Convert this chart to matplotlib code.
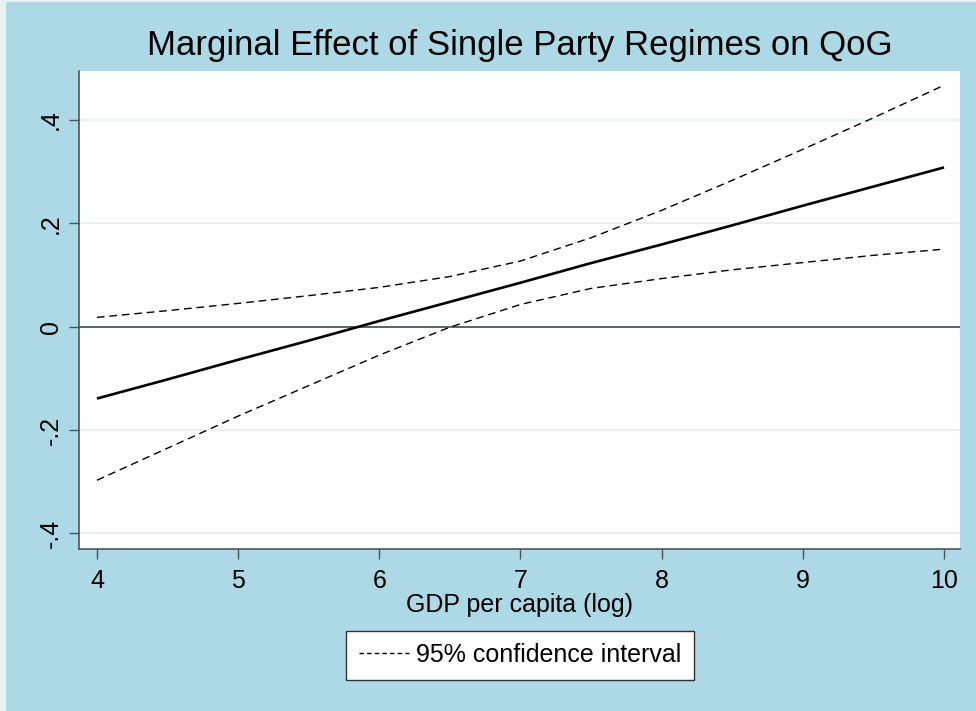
import matplotlib
matplotlib.use("Agg")
import matplotlib.pyplot as plt
from matplotlib.lines import Line2D
from matplotlib.patches import Rectangle

plt.rcParams['font.family'] = ['Liberation Sans', 'DejaVu Sans']

# Data
gdp = [4.0, 4.5, 5.0, 5.5, 6.0, 6.5, 7.0, 7.5, 8.0, 8.5, 9.0, 9.5, 10.0]
effect = [-0.139, -0.102, -0.064, -0.027, 0.011, 0.048, 0.085, 0.123, 0.159, 0.196, 0.234, 0.271, 0.308]
upper = [0.018, 0.031, 0.045, 0.060, 0.076, 0.097, 0.127, 0.172, 0.225, 0.283, 0.343, 0.404, 0.467]
lower = [-0.297, -0.235, -0.173, -0.114, -0.055, -0.001, 0.043, 0.074, 0.093, 0.110, 0.124, 0.138, 0.150]

xticks = [4, 5, 6, 7, 8, 9, 10]
yticks = [-0.4, -0.2, 0.0, 0.2, 0.4]
ytick_labels = ['-.4', '-.2', '0', '.2', '.4']

title = "Marginal Effect of Single Party Regimes on QoG"
xlabel = "GDP per capita (log)"
legend_label = "95% confidence interval"

BG = '#add8e5'
AXC = '#4a5558'

W, H = 976, 711
fig = plt.figure(figsize=(W / 100, H / 100), dpi=100, facecolor=BG)
# thin lighter edge strips seen in the reference
fig.patches.append(Rectangle((0, 0), 6 / W, 1, transform=fig.transFigure,
                             facecolor='#e8f1f4', edgecolor='none', zorder=-1))
fig.patches.append(Rectangle((0, 1 - 2 / H), 1, 2 / H, transform=fig.transFigure,
                             facecolor='#e8f1f4', edgecolor='none', zorder=-1))

left, right, top, bottom = 79, 960, 71, 549
ax = fig.add_axes([left / W, 1 - bottom / H, (right - left) / W, (bottom - top) / H])
ax.set_facecolor('white')

ax.set_xlim(3.873, 10.113)
ax.set_ylim(-0.430, 0.4945)

for yt in yticks:
    if yt != 0:
        ax.axhline(yt, color='#e9f1f3', lw=1.5, zorder=1)
ax.axhline(0, color='#3c4a4e', lw=1.2, zorder=2)

ax.plot(gdp, effect, color='black', lw=1.9, zorder=4, solid_capstyle='butt')
ax.plot(gdp, upper, color='black', lw=1.0, dashes=(5.5, 3.5), zorder=3)
ax.plot(gdp, lower, color='black', lw=1.0, dashes=(5.5, 3.5), zorder=3)

for s in ['top', 'right']:
    ax.spines[s].set_visible(False)
for s in ['left', 'bottom']:
    ax.spines[s].set_color(AXC)
    ax.spines[s].set_linewidth(1.2)

ax.set_xticks(xticks)
ax.set_xticklabels([str(v) for v in xticks])
ax.set_yticks(yticks)
ax.set_yticklabels(ytick_labels, rotation=90, va='center')
ax.tick_params(axis='both', direction='out', length=7.5, width=1.0, color=AXC,
               labelsize=18, labelcolor='black')
ax.tick_params(axis='x', pad=7)
ax.tick_params(axis='y', pad=4)

ax.set_xlabel(xlabel, fontsize=18, labelpad=0)

fig.text((left + right) / 2 / W, 1 - 45 / H, title, fontsize=25,
         ha='center', va='center')

handle = Line2D([0], [0], color='black', lw=1.0, dashes=(3.2, 2.3))
leg = fig.legend([handle], [legend_label], loc='center',
                 bbox_to_anchor=(520 / W, 1 - 655 / H), fontsize=18,
                 frameon=True, fancybox=False, handlelength=2.0, handletextpad=0.3,
                 borderpad=0.5, borderaxespad=0)
leg.get_frame().set_edgecolor('#333333')
leg.get_frame().set_linewidth(1.0)
leg.get_frame().set_facecolor('white')
leg.get_frame().set_alpha(1)

fig.savefig('out.png', dpi=100, facecolor=BG)
